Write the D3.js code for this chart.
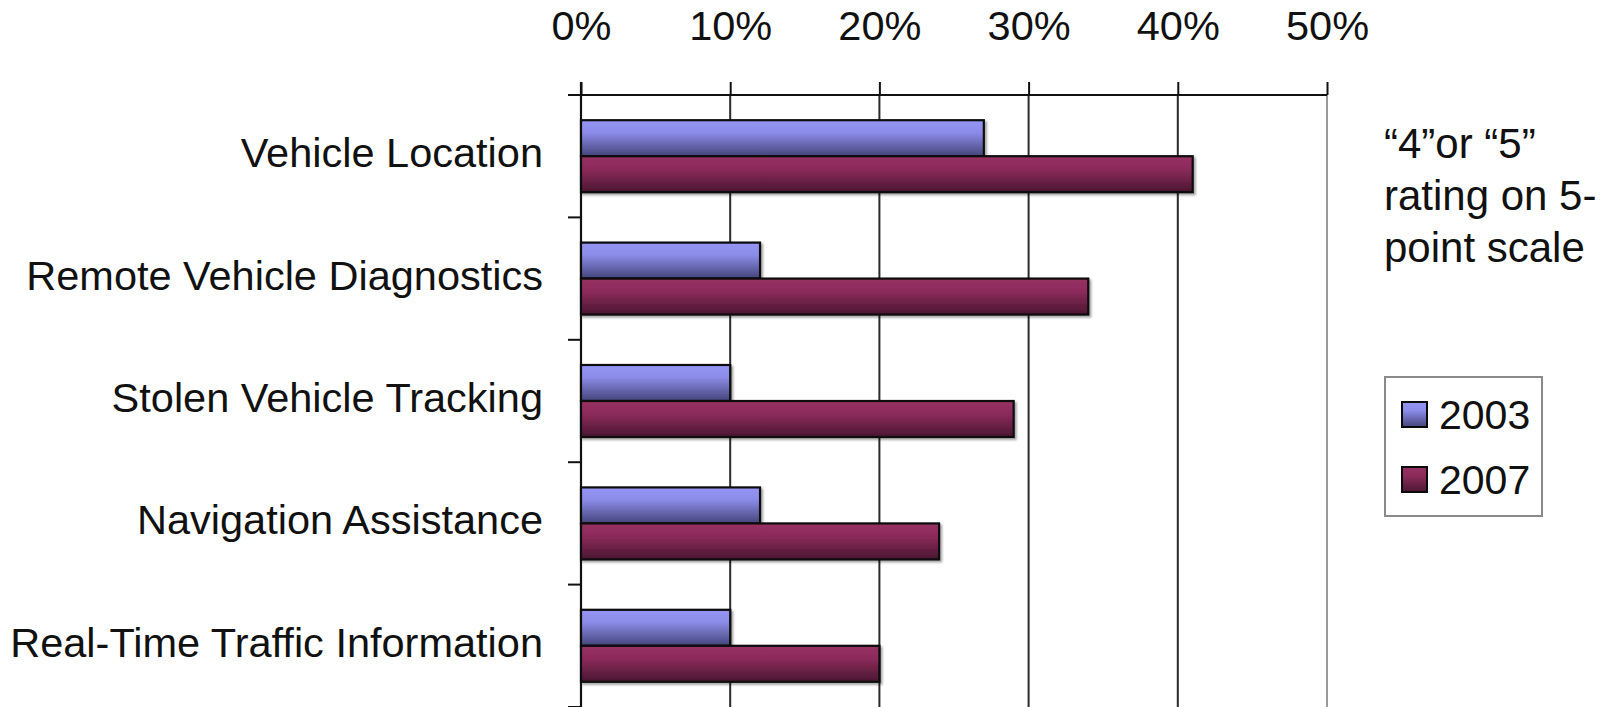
<!DOCTYPE html>
<html>
<head>
<meta charset="utf-8">
<script src="https://cdn.jsdelivr.net/npm/d3@7/dist/d3.min.js"></script>
<style>
  html, body { margin: 0; padding: 0; background: #fff; }
  svg { display: block; }
  text { font-family: "Liberation Sans", Arial, sans-serif; fill: #111; }
</style>
</head>
<body>
<svg id="chart" width="1607" height="707"></svg>
<script>
// Share of respondents giving a "4" or "5" rating, by telematics feature
const categories = [
  "Vehicle Location",
  "Remote Vehicle Diagnostics",
  "Stolen Vehicle Tracking",
  "Navigation Assistance",
  "Real-Time Traffic Information"
];
const series = ["2003", "2007"];
const values2003 = [0.27, 0.12, 0.10, 0.12, 0.10];
const values2007 = [0.41, 0.34, 0.29, 0.24, 0.20];
const tickValues = [0, 0.1, 0.2, 0.3, 0.4, 0.5];
const noteLines = ["\u201C4\u201Dor \u201C5\u201D", "rating on 5-", "point scale"];

const svg = d3.select("#chart");
const plot = { left: 581, right: 1327, top: 95, bottom: 707 };

const x = d3.scaleLinear().domain([0, 0.5]).range([plot.left, plot.right]);
const y0 = d3.scaleBand().domain(categories).range([plot.top, plot.bottom]).padding(0);
const y1 = d3.scaleBand().domain(series).range([0, y0.bandwidth()])
  .paddingInner(0).paddingOuter(0.7);

// Bar gradients
const defs = svg.append("defs");
const grads = {
  "2003": [["0%", "#9595f5"], ["35%", "#8b8be8"], ["100%", "#44447a"]],
  "2007": [["0%", "#973163"], ["35%", "#8c2b5b"], ["100%", "#4a1631"]]
};
Object.entries(grads).forEach(([k, stops]) => {
  const g = defs.append("linearGradient").attr("id", "g" + k)
    .attr("x1", 0).attr("y1", 0).attr("x2", 0).attr("y2", 1);
  stops.forEach(([o, c]) => g.append("stop").attr("offset", o).attr("stop-color", c));
});
const sh = defs.append("filter").attr("id", "shadow")
  .attr("x", "-5%").attr("y", "-20%").attr("width", "115%").attr("height", "150%");
sh.append("feDropShadow").attr("dx", 2).attr("dy", 2).attr("stdDeviation", 1.2)
  .attr("flood-color", "#000").attr("flood-opacity", 0.35);

// Vertical gridlines (50% line is the lighter plot border)
svg.append("g").selectAll("line").data(tickValues.slice(1)).join("line")
  .attr("x1", d => x(d)).attr("x2", d => x(d))
  .attr("y1", plot.top).attr("y2", plot.bottom)
  .attr("stroke", d => d === 0.5 ? "#9a9a9a" : "#2a2a2a")
  .attr("stroke-width", 2);

// Top axis
const xAxis = d3.axisTop(x).tickValues(tickValues).tickFormat(d3.format(".0%"))
  .tickSizeInner(13).tickSizeOuter(0).tickPadding(42);
const gx = svg.append("g").attr("transform", `translate(0,${plot.top})`).call(xAxis);
gx.select(".domain").attr("stroke", "#111").attr("stroke-width", 2.2)
  .attr("d", `M${plot.left - 13},0H${plot.right}`);
gx.selectAll(".tick line").attr("stroke", "#111").attr("stroke-width", 2);
gx.selectAll(".tick text").attr("font-size", 41.5).attr("fill", "#111")
  .style("font-family", '"Liberation Sans", Arial, sans-serif');

// Left axis line and ticks at category boundaries
svg.append("line")
  .attr("x1", plot.left).attr("x2", plot.left)
  .attr("y1", plot.top - 13).attr("y2", plot.bottom)
  .attr("stroke", "#111").attr("stroke-width", 2.2);
svg.append("g").selectAll("line").data(categories.slice(1).concat(["_end"])).join("line")
  .attr("x1", plot.left - 13).attr("x2", plot.left)
  .attr("y1", (d, i) => plot.top + (i + 1) * y0.step())
  .attr("y2", (d, i) => plot.top + (i + 1) * y0.step())
  .attr("stroke", "#111").attr("stroke-width", 2);

// Category labels
svg.append("g").selectAll("text").data(categories).join("text")
  .attr("x", 543)
  .attr("y", d => y0(d) + y0.bandwidth() / 2 + 11)
  .attr("text-anchor", "end")
  .attr("font-size", 41.5)
  .text(d => d);

// Bars
const rows = categories.map((c, i) => ({ c, v: { "2003": values2003[i], "2007": values2007[i] } }));
const groups = svg.append("g").selectAll("g").data(rows).join("g")
  .attr("transform", d => `translate(0,${y0(d.c)})`);
groups.selectAll("rect").data(d => series.map(s => ({ s, v: d.v[s] }))).join("rect")
  .attr("x", x(0))
  .attr("y", d => y1(d.s))
  .attr("width", d => x(d.v) - x(0))
  .attr("height", y1.bandwidth())
  .attr("fill", d => `url(#g${d.s})`)
  .attr("stroke", "#0a0a0a")
  .attr("stroke-width", 2.2)
  .attr("filter", "url(#shadow)");

// Note text
svg.append("g").selectAll("text").data(noteLines).join("text")
  .attr("x", 1384)
  .attr("y", (d, i) => 158 + i * 52)
  .attr("font-size", 42)
  .text(d => d);

// Legend
const lg = svg.append("g");
lg.append("rect").attr("x", 1385).attr("y", 377).attr("width", 157).attr("height", 139)
  .attr("fill", "#fff").attr("stroke", "#8a8a8a").attr("stroke-width", 2);
const items = lg.selectAll("g").data(series).join("g")
  .attr("transform", (d, i) => `translate(1402,${402 + i * 65})`);
items.append("rect").attr("width", 25).attr("height", 25)
  .attr("fill", d => `url(#g${d})`).attr("stroke", "#0a0a0a").attr("stroke-width", 2);
items.append("text").attr("x", 37).attr("y", 27).attr("font-size", 41).text(d => d);
</script>
</body>
</html>
